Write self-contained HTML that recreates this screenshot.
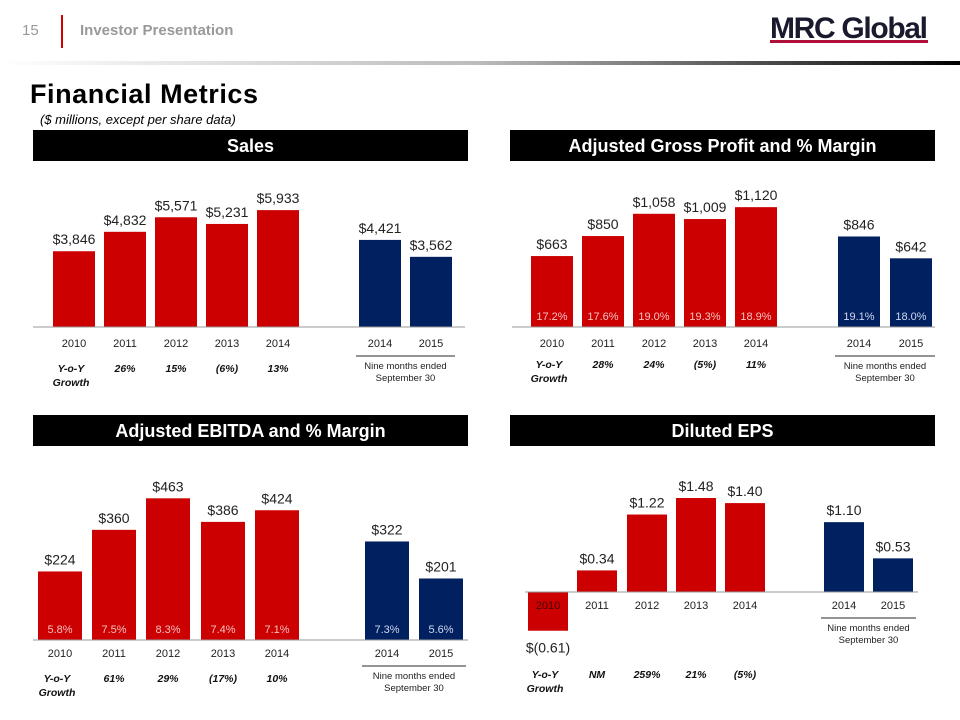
<!DOCTYPE html>
<html><head><meta charset="utf-8"><style>
html,body{margin:0;padding:0;background:#fff;}
svg{display:block;font-family:"Liberation Sans",Arial,sans-serif;}
</style></head><body>
<svg id="s" width="960" height="720" viewBox="0 0 960 720" xmlns="http://www.w3.org/2000/svg">
<defs><linearGradient id="g" x1="0" x2="1"><stop offset="0" stop-color="#fff"/><stop offset="0.5" stop-color="#bbb"/><stop offset="1" stop-color="#000"/></linearGradient></defs>
<text x="22" y="35" font-size="15" fill="#999">15</text>
<rect x="61" y="15" width="2" height="33" fill="#cc0000"/>
<text x="80" y="35" font-size="15" font-weight="bold" fill="#999">Investor Presentation</text>
<text x="770" y="38" font-size="30" font-weight="bold" fill="#1a1a2e" textLength="158">MRC Global</text>
<rect x="770" y="40" width="158" height="3" fill="#b0103a"/>
<rect x="0" y="61" width="960" height="4" fill="url(#g)"/>
<text x="30" y="103" font-size="27" font-weight="bold" fill="#000" textLength="228">Financial Metrics</text>
<text x="40" y="124" font-size="13" font-style="italic" fill="#000">($ millions, except per share data)</text>
<g id="charts"></g>
</svg>
<script>
// Sales
const salesCats=["2010","2011","2012","2013","2014","2014","2015"];
const salesVals=[3846,4832,5571,5231,5933,4421,3562];
const salesLabels=["$3,846","$4,832","$5,571","$5,231","$5,933","$4,421","$3,562"];
const salesGrowth=["26%","15%","(6%)","13%"];
// Gross profit
const gpCats=["2010","2011","2012","2013","2014","2014","2015"];
const gpVals=[663,850,1058,1009,1120,846,642];
const gpLabels=["$663","$850","$1,058","$1,009","$1,120","$846","$642"];
const gpMargins=["17.2%","17.6%","19.0%","19.3%","18.9%","19.1%","18.0%"];
const gpGrowth=["28%","24%","(5%)","11%"];
// EBITDA
const ebCats=["2010","2011","2012","2013","2014","2014","2015"];
const ebVals=[224,360,463,386,424,322,201];
const ebLabels=["$224","$360","$463","$386","$424","$322","$201"];
const ebMargins=["5.8%","7.5%","8.3%","7.4%","7.1%","7.3%","5.6%"];
const ebGrowth=["61%","29%","(17%)","10%"];
// EPS
const epsCats=["2010","2011","2012","2013","2014","2014","2015"];
const epsVals=[-0.61,0.34,1.22,1.48,1.40,1.10,0.53];
const epsLabels=["$(0.61)","$0.34","$1.22","$1.48","$1.40","$1.10","$0.53"];
const epsGrowth=["NM","259%","21%","(5%)"];

const NS="http://www.w3.org/2000/svg";
const root=document.getElementById('charts');
function mk(tag,attrs,parent,text){const e=document.createElementNS(NS,tag);for(const k in attrs)e.setAttribute(k,attrs[k]);if(text!==undefined)e.textContent=text;(parent||root).appendChild(e);return e;}

function chart(o){
  const g=mk('g',{});
  
  
  const hb=mk('rect',{x:o.hx,y:o.hy,width:o.hw,height:31,fill:'#000'},g);
  
  
  const ht=mk('text',{x:o.hx+o.hw/2,y:o.hy+22,'font-size':18,'font-weight':'bold',fill:'#fff','text-anchor':'middle'},g,o.title);
  
  
  const yS=v=>o.base-v*o.scale;
  o.vals.forEach((v,i)=>{
    const x=o.xs[i], col=i<5?'#cc0000':'#002060';
    const top=Math.min(yS(v),o.base), h=Math.abs(yS(v)-o.base);
    const r=mk('rect',{x:x,y:top,width:o.bw,height:h,fill:col},g);
    
    
    const ly=v>=0?yS(v)-7:yS(v)+22;
    const t=mk('text',{x:x+o.bw/2,y:ly,'font-size':14,fill:'#222','text-anchor':'middle'},g,o.labels[i]);
    
    
    if(o.margins){
      const m=mk('text',{x:x+o.bw/2,y:o.base-7,'font-size':11,fill:i<5?'#f6c0c0':'#d0d8f0','text-anchor':'middle'},g,o.margins[i]);
      
      
    }
    const c=mk('text',{x:x+o.bw/2,y:o.yearY,'font-size':11,fill:i==0&&v<0?'#400':'#222','text-anchor':'middle'},g,o.cats[i]);
    
    
  });
  const ax=mk('line',{x1:o.axX1,x2:o.axX2,y1:o.base,y2:o.base,stroke:'#999','stroke-width':1},g);
  
  
  const nx1=o.xs[5]-3,nx2=o.xs[6]+o.bw+3;
  const nl=mk('line',{x1:nx1,x2:nx2,y1:o.yearY+9,y2:o.yearY+9,stroke:'#555','stroke-width':1.2},g);
  
  
  const n1=mk('text',{x:(nx1+nx2)/2,y:o.yearY+22,'font-size':9.5,fill:'#222','text-anchor':'middle'},g,'Nine months ended');
  
  
  mk('text',{x:(nx1+nx2)/2,y:o.yearY+34,'font-size':9.5,fill:'#222','text-anchor':'middle'},g,'September 30');
  const y1=mk('text',{x:o.xs[0]+o.bw/2-3,y:o.growthY,'font-size':10.5,'font-weight':'bold','font-style':'italic',fill:'#111','text-anchor':'middle'},g,'Y-o-Y');
  
  
  mk('text',{x:o.xs[0]+o.bw/2-3,y:o.growthY+14,'font-size':10.5,'font-weight':'bold','font-style':'italic',fill:'#111','text-anchor':'middle'},g,'Growth');
  o.growth.forEach((s,i)=>{
    const t=mk('text',{x:o.xs[i+1]+o.bw/2,y:o.growthY,'font-size':10.5,'font-weight':'bold','font-style':'italic',fill:'#111','text-anchor':'middle'},g,s);
    
    
  });
}
chart({name:'sales-chart',title:'Sales',hx:33,hy:130,hw:435,cats:salesCats,vals:salesVals,labels:salesLabels,growth:salesGrowth,
  xs:[53,104,155,206,257,359,410],bw:42,base:327,scale:0.0197,yearY:347,growthY:372,axX1:33,axX2:465});
chart({name:'gross-profit-chart',title:'Adjusted Gross Profit and % Margin',hx:510,hy:130,hw:425,cats:gpCats,vals:gpVals,labels:gpLabels,margins:gpMargins,growth:gpGrowth,
  xs:[531,582,633,684,735,838,890],bw:42,base:327,scale:0.107,yearY:347,growthY:368,axX1:512,axX2:935});
chart({name:'ebitda-chart',title:'Adjusted EBITDA and % Margin',hx:33,hy:415,hw:435,cats:ebCats,vals:ebVals,labels:ebLabels,margins:ebMargins,growth:ebGrowth,
  xs:[38,92,146,201,255,365,419],bw:44,base:640,scale:0.306,yearY:657,growthY:682,axX1:33,axX2:468});
chart({name:'eps-chart',title:'Diluted EPS',hx:510,hy:415,hw:425,cats:epsCats,vals:epsVals,labels:epsLabels,growth:epsGrowth,
  xs:[528,577,627,676,725,824,873],bw:40,base:592,scale:63.5,yearY:609,growthY:678,axX1:525,axX2:918});
</script>
</body></html>
